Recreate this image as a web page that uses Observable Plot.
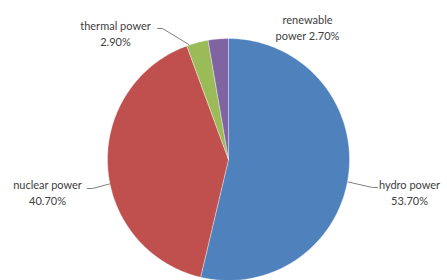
<!DOCTYPE html>
<html>
<head>
<meta charset="utf-8">
<script src="https://cdn.jsdelivr.net/npm/d3@7"></script>
<script src="https://cdn.jsdelivr.net/npm/@observablehq/plot@0.6"></script>
<style>
  html, body { margin: 0; padding: 0; background: #fff; }
  #chart svg { display: block; }
</style>
</head>
<body>
<div id="chart"></div>
<script>
// ---- data ----
const categories = ["hydro power", "nuclear power", "thermal power", "renewable power"];
const values = [53.7, 40.7, 2.9, 2.7];
const labelLines = [
  ["hydro power", "53.70%"],
  ["nuclear power", "40.70%"],
  ["thermal power", "2.90%"],
  ["renewable", "power 2.70%"]
];
const colors = ["#4F81BD", "#C0504D", "#9BBB59", "#8064A2"];

// ---- layout (pixels) ----
const W = 447, H = 280;
const CX = 228, CY = 159, R = 121;
const labelCenter = [[409, 191], [47, 191], [115, 32], [307, 26]];
const leaderEnd = [[377, 187], [87, 188], [157, 28], null];

// pixel -> data (unit circle space)
const toData = ([px, py]) => [(px - CX) / R, (CY - py) / R];

const pie = d3.pie().sort(null).startAngle(0).endAngle(2 * Math.PI)(values);

// slice polygons in unit-circle coordinates (angle measured clockwise from 12 o'clock)
const slicePts = [];
pie.forEach((a, i) => {
  const n = Math.max(4, Math.ceil((a.endAngle - a.startAngle) / (Math.PI / 180)));
  slicePts.push({k: categories[i], x: 0, y: 0});
  for (let j = 0; j <= n; j++) {
    const t = a.startAngle + (a.endAngle - a.startAngle) * j / n;
    slicePts.push({k: categories[i], x: Math.sin(t), y: Math.cos(t)});
  }
  slicePts.push({k: categories[i], x: 0, y: 0});
});

// labels
const labels = categories.map((c, i) => {
  const [x, y] = toData(labelCenter[i]);
  return {k: c, x, y, text: labelLines[i].join("\n")};
});

// leader lines: attach to the arc in the direction of the label, clamped to the slice
const leaders = [];
pie.forEach((a, i) => {
  const e = leaderEnd[i];
  if (!e) return;
  const [ex, ey] = toData(e);
  let ang = Math.atan2(ex, ey);
  if (ang < 0) ang += 2 * Math.PI;
  const pad = Math.min(0.02, (a.endAngle - a.startAngle) / 4);
  ang = Math.max(a.startAngle + pad, Math.min(a.endAngle - pad, ang));
  const side = ex > 0 ? -1 : 1;
  leaders.push({k: categories[i], x: Math.sin(ang) * 1.005, y: Math.cos(ang) * 1.005});
  leaders.push({k: categories[i], x: ex + side * 5 / R, y: ey});
  leaders.push({k: categories[i], x: ex, y: ey});
});

const plot = Plot.plot({
  width: W,
  height: H,
  marginLeft: CX - R,
  marginRight: W - (CX + R),
  marginTop: CY - R,
  marginBottom: H - (CY + R),
  x: {domain: [-1, 1], axis: null},
  y: {domain: [-1, 1], axis: null},
  color: {domain: categories, range: colors},
  style: {fontFamily: "Lato, 'Open Sans', sans-serif", overflow: "visible"},
  marks: [
    Plot.line(slicePts, {x: "x", y: "y", z: "k", fill: "k", stroke: "#fff", strokeWidth: 0.6, strokeOpacity: 0.6, curve: "linear"}),
    Plot.line(leaders, {x: "x", y: "y", z: "k", stroke: "#7f7f7f", strokeWidth: 1}),
    Plot.text(labels, {x: "x", y: "y", text: "text", fill: "#404040", fontSize: 11, lineHeight: 1.45, textAnchor: "middle", lineAnchor: "middle"})
  ]
});
document.getElementById("chart").appendChild(plot);
</script>
</body>
</html>
